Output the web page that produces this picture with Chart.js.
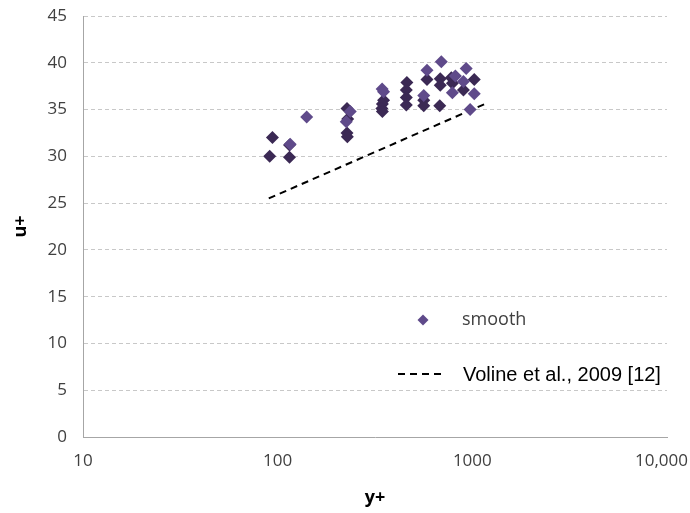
<!DOCTYPE html>
<html>
<head>
<meta charset="utf-8">
<script src="https://cdn.jsdelivr.net/npm/chart.js@4/dist/chart.umd.min.js"></script>
<style>
  html, body { margin: 0; padding: 0; background: #ffffff; }
  #wrap { width: 690px; height: 513px; position: relative; }
</style>
</head>
<body>
<div id="wrap"><canvas id="chart" width="690" height="513"></canvas></div>
<script>
// Measured velocity profile, u+ against y+ (two shades of the "smooth" series)
const smoothDark = [
  [91, 30.0], [94, 32.0], [115, 29.9], [115, 31.2],
  [227, 35.1], [229, 34.0], [227, 32.5], [228, 32.1],
  [350, 36.0], [345, 35.6], [343, 35.1], [345, 34.8],
  [461, 37.9], [458, 37.1], [458, 36.3], [458, 35.5],
  [585, 38.2], [563, 36.0], [563, 35.4],
  [684, 38.3], [684, 37.6], [680, 35.4],
  [780, 38.4], [790, 37.8], [900, 37.1], [1023, 38.2]
];
const smoothLight = [
  [116, 31.3], [141, 34.2], [236, 34.8], [225, 33.7],
  [344, 37.2], [350, 36.9], [585, 39.2], [563, 36.5],
  [693, 40.1], [818, 38.6], [790, 36.8], [930, 39.4],
  [900, 38.0], [1023, 36.7], [974, 35.0]
];
// Reference correlation line
const volineLine = [[90, 25.5], [1190, 35.7]];

const xTickValues = [10, 100, 1000, 10000];
const xTickLabels = ['10', '100', '1000', '10,000'];
const yMin = 0, yMax = 45, yStep = 5;

const legendLabels = ['smooth', 'Voline et al., 2009 [12]'];

const toXY = arr => arr.map(p => ({ x: p[0], y: p[1] }));

const darkColor = '#3b2954';
const lightColor = '#5f4a8a';
const tickFont = { family: 'Open Sans', size: 17 };

// Keep the last x tick label inside the canvas
const fitLastLabel = {
  id: 'fitLastLabel',
  beforeDraw(chart) {
    const s = chart.scales.x;
    const items = s.getLabelItems();
    if (!items.length) return;
    const last = items[items.length - 1];
    const ctx = chart.ctx;
    ctx.save();
    ctx.font = tickFont.size + 'px "' + tickFont.family + '"';
    const w = ctx.measureText(String(last.label)).width;
    ctx.restore();
    const maxX = chart.width - 2 - w / 2;
    if (last.options.translation[0] > maxX) last.options.translation[0] = maxX;
  }
};

// Legend drawn inside the plot area
const innerLegend = {
  id: 'innerLegend',
  afterDraw(chart) {
    const ctx = chart.ctx;
    const a = chart.chartArea;
    ctx.save();
    // marker entry
    const mx = a.left + 340, my = a.top + 304;
    ctx.fillStyle = lightColor;
    ctx.beginPath();
    ctx.moveTo(mx, my - 5.5);
    ctx.lineTo(mx + 5.5, my);
    ctx.lineTo(mx, my + 5.5);
    ctx.lineTo(mx - 5.5, my);
    ctx.closePath();
    ctx.fill();
    ctx.fillStyle = '#404040';
    ctx.font = '18px "Open Sans"';
    ctx.textBaseline = 'middle';
    ctx.fillText(legendLabels[0], a.left + 379, my);
    // dashed line entry
    const ly = a.top + 358;
    ctx.strokeStyle = '#000000';
    ctx.lineWidth = 2;
    ctx.setLineDash([7, 5]);
    ctx.beginPath();
    ctx.moveTo(a.left + 315, ly);
    ctx.lineTo(a.left + 363, ly);
    ctx.stroke();
    ctx.setLineDash([]);
    ctx.fillStyle = '#000000';
    ctx.font = '20px "Liberation Sans"';
    ctx.fillText(legendLabels[1], a.left + 380, ly + 1);
    ctx.restore();
  }
};

new Chart(document.getElementById('chart'), {
  type: 'scatter',
  data: {
    datasets: [
      {
        label: legendLabels[0],
        data: toXY(smoothLight),
        pointStyle: 'rectRot',
        pointRadius: 6.5,
        pointBorderWidth: 0,
        backgroundColor: lightColor,
        borderColor: lightColor
      },
      {
        label: legendLabels[0],
        data: toXY(smoothDark),
        pointStyle: 'rectRot',
        pointRadius: 6.5,
        pointBorderWidth: 0,
        backgroundColor: darkColor,
        borderColor: darkColor
      },
      {
        type: 'line',
        label: legendLabels[1],
        data: toXY(volineLine),
        showLine: true,
        pointRadius: 0,
        borderColor: '#000000',
        borderWidth: 2,
        borderDash: [7, 5],
        fill: false
      }
    ]
  },
  options: {
    responsive: false,
    animation: false,
    devicePixelRatio: 1,
    layout: { padding: { top: 16, right: 23, left: 0, bottom: 0 } },
    plugins: {
      legend: { display: false },
      tooltip: { enabled: false }
    },
    scales: {
      x: {
        type: 'logarithmic',
        min: 10,
        max: 10000,
        afterBuildTicks(scale) {
          scale.ticks = xTickValues.map(v => ({ value: v }));
        },
        afterFit(scale) {
          scale.height = 76;
          scale.paddingLeft = 0;
          scale.paddingRight = 0;
        },
        ticks: {
          autoSkip: false,
          maxRotation: 0,
          padding: 14,
          color: '#404040',
          font: tickFont,
          callback(value) {
            const i = xTickValues.indexOf(value);
            return i >= 0 ? xTickLabels[i] : '';
          }
        },
        grid: { display: false, drawTicks: false },
        border: { display: true, color: '#a6a6a6', width: 1 },
        title: {
          display: true,
          text: 'y+',
          color: '#000000',
          font: { family: 'Open Sans', size: 18, weight: 'bold' },
          padding: { top: 0, bottom: 4 }
        }
      },
      y: {
        min: yMin,
        max: yMax,
        afterFit(scale) {
          scale.width = 83;
          scale.paddingTop = 0;
          scale.paddingBottom = 0;
        },
        ticks: {
          stepSize: yStep,
          padding: 16,
          color: '#404040',
          font: tickFont
        },
        grid: { color: '#c8c8c8', lineWidth: 1, drawTicks: false },
        border: { display: true, color: '#a6a6a6', width: 1, dash: [4, 3] },
        title: {
          display: true,
          text: 'u+',
          color: '#000000',
          font: { family: 'Open Sans', size: 18, weight: 'bold' },
          padding: { top: 10, bottom: 0 }
        }
      }
    }
  },
  plugins: [fitLastLabel, innerLegend]
});
</script>
</body>
</html>
